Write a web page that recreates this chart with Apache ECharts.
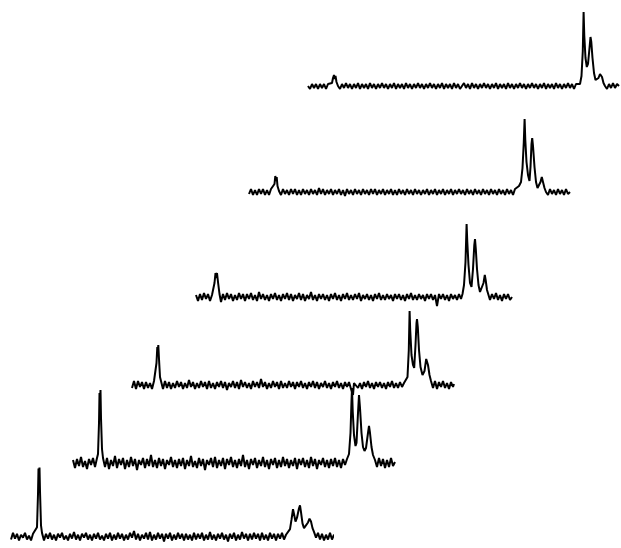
<!DOCTYPE html>
<html>
<head>
<meta charset="utf-8">
<script src="https://cdn.jsdelivr.net/npm/echarts@6/dist/echarts.min.js"></script>
<style>html,body{margin:0;padding:0;background:#fff;overflow:hidden;}#c{width:640px;height:548px;}</style>
</head>
<body>
<div id="c"></div>
<script>
// Spectrum traces: [shift index, intensity] pairs, bottom trace first
const trace1 = [[0,-3],[2,4],[4,-2],[6,3],[8,-4],[10,2],[12,-1],[14,4],[16,-3],[18,1],[20,-4],[22,3],[24,4],[26,10],[27,45],[27.5,72],[28,64],[28.5,73],[29,48],[30,12],[31,4],[33,-4],[35,3],[37,-2],[39,4],[41,-3],[43,2],[45,-4],[47,3],[49,-1],[51,4],[53,-3],[55,1],[57,-4],[59,3],[61,-2],[63,5],[65,-3],[67,2],[69,-4],[71,3],[73,-1],[75,4],[77,-3],[79,2],[81,-4],[83,3],[85,-2],[87,4],[89,-3],[91,1],[93,-4],[95,3],[97,-2],[99,4],[101,-4],[103,2],[105,-3],[107,4],[109,-2],[111,3],[113,-4],[115,2],[117,-3],[119,4],[121,-1],[123,6],[125,-3],[127,3],[129,-4],[131,2],[133,-2],[135,4],[137,-3],[139,5],[141,-4],[143,2],[145,-3],[147,4],[149,-2],[151,3],[153,-5],[155,3],[157,-2],[159,4],[161,-4],[163,2],[165,-3],[167,4],[169,-2],[171,3],[173,-4],[175,3],[177,-3],[179,2],[181,-4],[183,4],[185,-3],[187,3],[189,-2],[191,4],[193,-4],[195,2],[197,-3],[199,5],[201,-3],[203,2],[205,-4],[207,3],[209,-2],[211,4],[213,-3],[215,2],[217,-5],[219,3],[221,-2],[223,4],[225,-4],[227,2],[229,-3],[231,5],[233,-2],[235,3],[237,-4],[239,3],[241,-3],[243,4],[245,-2],[247,3],[249,-4],[251,4],[253,-3],[255,2],[257,-4],[259,4],[261,-2],[263,3],[265,-4],[267,3],[269,-2],[271,4],[273,-3],[275,2],[277,3],[279,8],[280.5,18],[282,29],[283,24],[284.5,16],[286,20],[288,30],[289,33],[290,26],[291.5,14],[293,9],[295,9],[297,15],[298.5,19],[299,21],[300,16],[301.5,9],[303,5],[305,-1],[307,4],[309,-3],[311,3],[313,-4],[315,2],[317,-3],[319,4],[321,-3],[323,2],[325,-4],[326,0]];

const trace2 = [[0,3],[2,-5],[4,4],[6,-3],[8,6],[10,-4],[12,2],[14,-6],[16,4],[18,-2],[20,5],[22,-4],[24,5],[25,9],[26,40],[26.5,70],[27,62],[27.5,73],[28,45],[29,14],[30,5],[32,-4],[34,5],[36,-6],[38,3],[40,-3],[42,7],[44,-5],[46,4],[48,-2],[50,5],[52,-6],[54,3],[56,-4],[58,6],[60,-3],[62,4],[64,-7],[66,3],[68,-2],[70,5],[72,-5],[74,4],[76,-3],[78,8],[80,-4],[82,3],[84,-5],[86,5],[88,-3],[90,4],[92,-6],[94,3],[96,-2],[98,6],[100,-4],[102,3],[104,-5],[106,4],[108,-3],[110,5],[112,-6],[114,3],[116,-3],[118,7],[120,-4],[122,2],[124,-5],[126,5],[128,-3],[130,4],[132,-7],[134,3],[136,-2],[138,5],[140,-4],[142,6],[144,-5],[146,3],[148,-3],[150,5],[152,-6],[154,4],[156,-2],[158,6],[160,-4],[162,3],[164,-5],[166,4],[168,-3],[170,8],[172,-4],[174,3],[176,-6],[178,4],[180,-2],[182,5],[184,-5],[186,3],[188,-3],[190,6],[192,-4],[194,3],[196,-6],[198,4],[200,-2],[202,5],[204,-5],[206,3],[208,-4],[210,6],[212,-3],[214,4],[216,-5],[218,3],[220,-3],[222,5],[224,-6],[226,4],[228,-2],[230,5],[232,-4],[234,3],[236,-5],[238,6],[240,-3],[242,4],[244,-6],[246,3],[248,-2],[250,5],[252,-4],[254,3],[256,-5],[258,4],[260,-3],[262,5],[264,-4],[266,3],[268,-5],[270,4],[272,-2],[274,4],[276,9],[277.5,30],[278.5,62],[279,75],[279.7,52],[281,28],[282.5,17],[283.5,20],[285,50],[286,68],[287,55],[288.5,30],[290,16],[291.5,12],[293,15],[295,30],[296,37],[297,30],[298.5,16],[300,8],[302,3],[304,-4],[306,5],[308,-3],[310,4],[312,-5],[314,3],[316,-4],[318,5],[320,-3],[322,1]];

const trace3 = [[0,-3],[2,4],[4,-4],[6,4],[8,-2],[10,3],[12,-4],[14,3],[16,-3],[18,2],[20,-4],[22,4],[23,6],[24.5,22],[25.3,38],[25.8,33],[26.3,40],[27,26],[28,8],[29.5,2],[31,-4],[33,4],[35,-3],[37,3],[39,-4],[41,2],[43,-3],[45,4],[47,-2],[49,3],[51,-4],[53,2],[55,-3],[57,5],[59,-2],[61,3],[63,-4],[65,2],[67,-3],[69,4],[71,-2],[73,3],[75,-4],[77,4],[79,-3],[81,2],[83,-4],[85,3],[87,-2],[89,4],[91,-3],[93,3],[95,-5],[97,2],[99,-2],[101,4],[103,-3],[105,3],[107,-4],[109,5],[111,-2],[113,3],[115,-3],[117,2],[119,-4],[121,4],[123,-2],[125,3],[127,-3],[129,6],[131,-2],[133,3],[135,-4],[137,2],[139,-3],[141,4],[143,-2],[145,3],[147,-4],[149,4],[151,-3],[153,2],[155,-3],[157,4],[159,-2],[161,3],[163,-4],[165,3],[167,-2],[169,4],[171,-3],[173,2],[175,-4],[177,3],[179,-2],[181,4],[183,-3],[185,3],[187,-4],[189,2],[191,-2],[193,4],[195,-3],[197,2],[199,-4],[201,3],[203,-2],[205,4],[207,-3],[209,2],[211,-4],[213,3],[215,-2],[217,3],[219,-4],[221,-10],[222,2],[224,4],[226,-3],[228,2],[230,-4],[232,3],[234,-2],[236,4],[238,-3],[240,2],[242,-4],[244,3],[246,-2],[248,3],[250,-3],[252,2],[254,-4],[256,3],[258,-2],[260,4],[262,-3],[264,2],[266,-3],[268,3],[270,-2],[272,2],[274,2],[275.5,8],[276.8,35],[277.6,74],[278.2,55],[279.5,30],[281,20],[282.2,17],[283.5,40],[284.5,62],[285,66],[285.8,58],[287,35],[288.5,18],[290.5,10],[292.5,14],[294.2,26],[295,28],[296,20],[297.5,10],[299,4],[301,-3],[303,4],[305,-4],[307,3],[309,-2],[311,4],[313,-3],[315,2],[317,-4],[319,3],[321,-2],[322,1]];

const trace4 = [[0,2],[2,-4],[4,3],[6,-3],[8,4],[10,-2],[12,3],[14,-4],[16,2],[17,3],[18.5,14],[19.5,24],[20.3,19],[21,24],[22,15],[23.5,3],[25,-5],[27,3],[29,-3],[31,4],[33,-2],[35,3],[37,-4],[39,2],[41,-3],[43,4],[45,-2],[47,3],[49,-4],[51,3],[53,-2],[55,4],[57,-3],[59,2],[61,-4],[63,5],[65,-2],[67,3],[69,-3],[71,2],[73,-4],[75,3],[77,-2],[79,4],[81,-3],[83,2],[85,-4],[87,3],[89,-2],[91,4],[93,-3],[95,3],[97,-4],[99,2],[101,-2],[103,4],[105,-3],[107,3],[109,-4],[111,2],[113,-2],[115,5],[117,-3],[119,2],[121,-4],[123,3],[125,-2],[127,3],[129,-3],[131,2],[133,-4],[135,3],[137,-2],[139,4],[141,-3],[143,2],[145,-4],[147,3],[149,-2],[151,4],[153,-3],[155,2],[157,-3],[159,3],[161,-2],[163,4],[165,-4],[167,2],[169,-2],[171,3],[173,-3],[175,2],[177,-4],[179,3],[181,-2],[183,4],[185,-3],[187,2],[189,-3],[191,3],[193,-2],[195,2],[197,-4],[199,3],[201,-2],[203,3],[205,-3],[207,2],[209,-4],[211,3],[213,-2],[215,4],[217,-3],[219,2],[221,-3],[223,3],[225,-2],[227,2],[229,-4],[231,3],[233,-2],[235,3],[237,-3],[239,2],[241,-9],[243,3],[245,-2],[247,3],[249,-3],[251,2],[253,-4],[255,3],[257,-2],[259,2],[261,-3],[263,3],[265,-2],[266.5,3],[268,12],[269.5,35],[270.6,73],[271.3,55],[272.5,32],[274,14],[275.5,10],[277,28],[278.3,52],[279,58],[279.8,48],[281,28],[282.5,12],[284,5],[285.5,4],[287.5,14],[288.8,22],[289.8,16],[291,7],[292.5,2],[294,-3],[296,3],[298,-2],[300,4],[302,-3],[304,2],[306,-4],[308,3],[310,-2],[312,3],[314,-3],[316,0]];

const trace5 = [[0,-2],[2,3],[4,-3],[6,2],[8,-3],[10,3],[12,-2],[14,3],[16,-3],[18,2],[20,-3],[22,3],[24,1],[25.5,8],[26.3,16],[27,11],[27.7,15],[28.5,6],[30,1],[32,-3],[34,3],[36,-2],[38,2],[40,-3],[42,3],[44,-2],[46,3],[48,-3],[50,2],[52,-3],[54,3],[56,-2],[58,2],[60,-3],[62,3],[64,-2],[66,2],[68,-3],[70,4],[72,-2],[74,3],[76,-3],[78,2],[80,-2],[82,3],[84,-3],[86,2],[88,-2],[90,3],[92,-3],[94,2],[96,-4],[98,3],[100,-2],[102,2],[104,-3],[106,3],[108,-2],[110,2],[112,-3],[114,3],[116,-2],[118,2],[120,-3],[122,3],[124,-2],[126,3],[128,-3],[130,2],[132,-2],[134,3],[136,-3],[138,2],[140,-2],[142,3],[144,-3],[146,2],[148,-3],[150,3],[152,-2],[154,2],[156,-3],[158,3],[160,-2],[162,2],[164,-3],[166,3],[168,-2],[170,2],[172,-3],[174,2],[176,-2],[178,3],[180,-3],[182,2],[184,-2],[186,3],[188,-3],[190,2],[192,-2],[194,3],[196,-3],[198,2],[200,-2],[202,3],[204,-3],[206,2],[208,-2],[210,3],[212,-2],[214,2],[216,-3],[218,3],[220,-2],[222,2],[224,-3],[226,3],[228,-2],[230,2],[232,-3],[234,3],[236,-2],[238,2],[240,-3],[242,3],[244,-2],[246,2],[248,-3],[250,3],[252,-2],[254,2],[256,-3],[258,3],[260,-2],[262,2],[264,-3],[266,3],[268,3],[270,6],[272,10],[273.5,24],[274.8,50],[275.6,73],[276.3,52],[277.5,30],[279,17],[280.5,11],[281.5,25],[282.5,48],[283.2,54],[284,46],[285.5,25],[287,10],[288.5,4],[290,5],[291.5,10],[292.8,15],[294,10],[295.5,4],[297,0],[299,-3],[301,3],[303,-2],[305,2],[307,-3],[309,3],[311,-2],[313,2],[315,-3],[317,3],[319,-2],[321,0]];

const trace6 = [[0,0],[2,-3],[4,2],[6,-2],[8,2],[10,-3],[12,2],[14,-2],[16,2],[18,-3],[20,2],[22,0],[24,3],[25,8],[26,11],[26.8,7],[27.5,10],[28.5,4],[30,0],[32,-3],[34,2],[36,-2],[38,3],[40,-2],[42,2],[44,-3],[46,2],[48,-2],[50,3],[52,-3],[54,2],[56,-2],[58,2],[60,-3],[62,3],[64,-2],[66,2],[68,-3],[70,2],[72,-2],[74,3],[76,-2],[78,2],[80,-3],[82,2],[84,-2],[86,3],[88,-3],[90,2],[92,-2],[94,2],[96,-3],[98,3],[100,-2],[102,2],[104,-3],[106,2],[108,-2],[110,3],[112,-2],[114,2],[116,-3],[118,2],[120,-2],[122,3],[124,-2],[126,2],[128,-3],[130,2],[132,-2],[134,3],[136,-3],[138,2],[140,-2],[142,2],[144,-3],[146,3],[148,-2],[150,2],[152,-3],[154,-4],[156,3],[158,-2],[160,2],[162,-3],[164,3],[166,-2],[168,2],[170,-3],[172,2],[174,-2],[176,3],[178,-2],[180,2],[182,-3],[184,2],[186,-2],[188,3],[190,-3],[192,2],[194,-2],[196,2],[198,-3],[200,3],[202,-2],[204,2],[206,-3],[208,2],[210,-2],[212,3],[214,-2],[216,2],[218,-3],[220,2],[222,-2],[224,3],[226,-2],[228,2],[230,-3],[232,2],[234,-2],[236,3],[238,-3],[240,2],[242,-2],[244,2],[246,-3],[248,3],[250,-2],[252,2],[254,-3],[256,2],[258,-2],[260,3],[262,-2],[264,2],[266,-3],[268,2],[270,0],[272,2],[273.5,10],[274.8,35],[275.6,74],[276.3,50],[277.5,28],[278.8,19],[280,22],[281.5,38],[282.5,49],[283.3,44],[284.5,28],[286,13],[287.5,6],[289,5],[290.5,8],[292,12],[293,13],[294,9],[295.5,3],[297,0],[299,-3],[301,2],[303,-2],[305,3],[307,-2],[309,2],[311,0]];

const traces = [trace1, trace2, trace3, trace4, trace5, trace6];

// Layout of the stacked panels (pixels): left edge and baseline of each trace
const panelLeft = [11, 73, 132, 196, 249, 308];
const panelBase = [541, 463, 385, 297, 192, 86];
const X_MAX = 322, Y_MIN = -12, Y_MAX = 80;

const grids = [], xAxes = [], yAxes = [], series = [];
traces.forEach((t, i) => {
  grids.push({ left: panelLeft[i], top: panelBase[i] - Y_MAX, width: X_MAX, height: Y_MAX - Y_MIN, containLabel: false });
  xAxes.push({ type: 'value', gridIndex: i, min: 0, max: X_MAX, show: false });
  yAxes.push({ type: 'value', gridIndex: i, min: Y_MIN, max: Y_MAX, show: false });
  series.push({
    type: 'line', xAxisIndex: i, yAxisIndex: i, data: t,
    showSymbol: false, symbol: 'none', clip: false, silent: true,
    lineStyle: { color: '#000', width: 2 }
  });
});

const chart = echarts.init(document.getElementById('c'), null, { renderer: 'canvas' });
chart.setOption({
  backgroundColor: '#fff',
  animation: false,
  grid: grids, xAxis: xAxes, yAxis: yAxes, series: series
});
</script>
</body>
</html>
